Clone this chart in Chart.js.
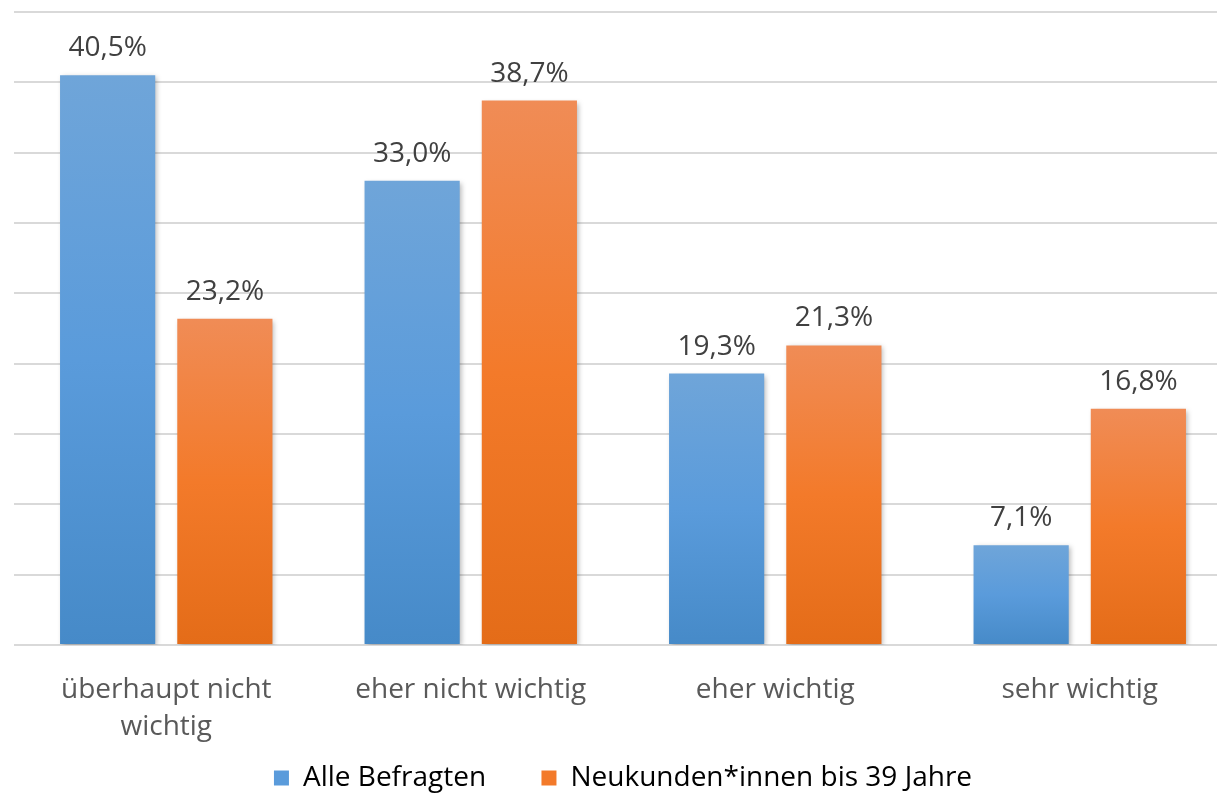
<!DOCTYPE html>
<html>
<head>
<meta charset="utf-8">
<script src="https://cdn.jsdelivr.net/npm/chart.js@4"></script>
<style>
  html, body { margin: 0; padding: 0; background: #fff; overflow: hidden; }
  #wrap { width: 1232px; height: 802px; position: relative; }
</style>
</head>
<body>
<div id="wrap"><canvas id="c"></canvas></div>
<script>
// Survey answers per importance level, in percent
const categories = [["überhaupt nicht", "wichtig"], "eher nicht wichtig", "eher wichtig", "sehr wichtig"];
const seriesNames = ["Alle Befragten", "Neukunden*innen bis 39 Jahre"];
const alleBefragten = [40.5, 33.0, 19.3, 7.1];
const neukunden = [23.2, 38.7, 21.3, 16.8];

const blueStops = ["#6fa5d9", "#5a9bdb", "#468ac8"];
const orangeStops = ["#f08c56", "#f37a2a", "#e46c18"];

// vertical gradient spanning each bar from its top to the baseline
function barGradient(stops) {
  return function (ctx) {
    const chart = ctx.chart;
    const area = chart.chartArea;
    if (!area || ctx.type !== 'data') return stops[1];
    const y = chart.scales.y;
    const top = y.getPixelForValue(ctx.raw);
    const bottom = y.getPixelForValue(0);
    if (!isFinite(top) || bottom - top < 1) return stops[1];
    const g = chart.ctx.createLinearGradient(0, top, 0, bottom);
    g.addColorStop(0, stops[0]);
    g.addColorStop(0.5, stops[1]);
    g.addColorStop(1, stops[2]);
    return g;
  };
}

const fmt = v => v.toFixed(1).replace('.', ',') + '%';

// value labels above each bar
const valueLabels = {
  id: 'valueLabels',
  afterDatasetsDraw(chart) {
    const ctx = chart.ctx;
    ctx.save();
    ctx.font = '28px "Open Sans"';
    ctx.fillStyle = '#404040';
    ctx.textAlign = 'center';
    ctx.textBaseline = 'alphabetic';
    chart.data.datasets.forEach((ds, i) => {
      chart.getDatasetMeta(i).data.forEach((bar, j) => {
        ctx.fillText(fmt(ds.data[j]), bar.x, bar.y - 19);
      });
    });
    ctx.restore();
  }
};

// soft drop shadow under the bars
const barShadow = {
  id: 'barShadow',
  beforeDatasetsDraw(chart) {
    const ctx = chart.ctx;
    ctx.save();
    ctx.shadowColor = 'rgba(0,0,0,0.28)';
    ctx.shadowBlur = 5;
    ctx.shadowOffsetX = 2;
    ctx.shadowOffsetY = 2;
  },
  afterDatasetsDraw(chart) {
    chart.ctx.restore();
  }
};

// wider gap after every legend entry except the last
const legendGap = '\u00a0\u00a0\u00a0\u00a0\u00a0';

new Chart(document.getElementById('c'), {
  type: 'bar',
  data: {
    labels: categories,
    datasets: [
      { label: seriesNames[0], data: alleBefragten, backgroundColor: barGradient(blueStops), borderWidth: 0 },
      { label: seriesNames[1], data: neukunden, backgroundColor: barGradient(orangeStops), borderWidth: 0 }
    ]
  },
  options: {
    responsive: true,
    maintainAspectRatio: false,
    animation: false,
    categoryPercentage: 0.77,
    barPercentage: 0.812,
    layout: { padding: { left: 14, right: 0, top: 12, bottom: 0 } },
    scales: {
      x: {
        grid: { display: false, drawTicks: false },
        border: { display: false },
        ticks: {
          color: '#595959',
          font: { family: 'Open Sans', size: 28, lineHeight: 1.3 },
          padding: 27,
          maxRotation: 0,
          autoSkip: false
        },
        afterFit(scale) { scale.height = 100; }
      },
      y: {
        min: 0,
        max: 45,
        ticks: { display: false, stepSize: 5 },
        grid: { color: '#d9d9d9', lineWidth: 2, drawTicks: false },
        border: { display: false },
        afterFit(scale) { scale.width = 0; }
      }
    },
    plugins: {
      legend: {
        position: 'bottom',
        labels: {
          color: '#595959',
          font: { family: 'Open Sans', size: 28 },
          boxWidth: 15,
          boxHeight: 15,
          padding: 19,
          generateLabels(chart) {
            const cols = [blueStops[1], orangeStops[1]];
            const n = chart.data.datasets.length;
            return chart.data.datasets.map((ds, i) => ({
              text: i < n - 1 ? ds.label + legendGap : ds.label,
              fillStyle: cols[i],
              strokeStyle: cols[i],
              lineWidth: 0,
              datasetIndex: i,
              hidden: false
            }));
          }
        }
      },
      tooltip: { enabled: false }
    }
  },
  plugins: [barShadow, valueLabels]
});
</script>
</body>
</html>
